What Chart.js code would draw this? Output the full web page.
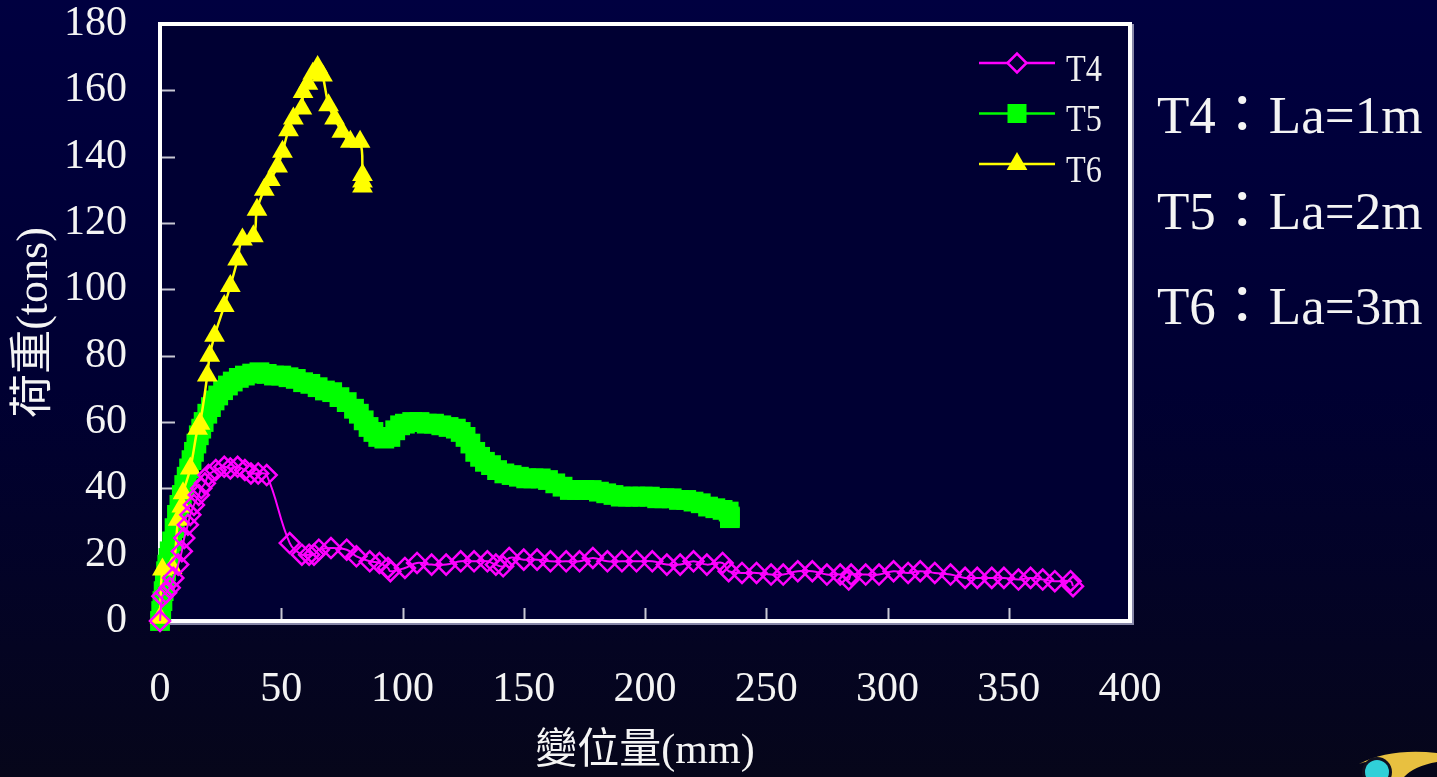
<!DOCTYPE html>
<html>
<head>
<meta charset="utf-8">
<script src="https://cdn.jsdelivr.net/npm/chart.js@4.4.0/dist/chart.umd.min.js"></script>
<style>
  html, body {
    margin: 0;
    padding: 0;
    width: 1437px;
    height: 777px;
    overflow: hidden;
    background: linear-gradient(to bottom, #000040 0%, #000032 50%, #06061a 100%);
  }
  canvas { display: block; }
</style>
</head>
<body>
<canvas id="grafica" width="1437" height="777"></canvas>
<script>
// Nombres de las series y notas de la derecha
const seriesNames = ['T4', 'T5', 'T6'];
const noteLines = ['T4：La=1m', 'T5：La=2m', 'T6：La=3m'];

// Marcas de los ejes
const xTickVals = [0, 50, 100, 150, 200, 250, 300, 350, 400];
const yTickVals = [0, 20, 40, 60, 80, 100, 120, 140, 160, 180];

// T4 (La=1m) desplazamiento (mm) / carga (tons)
const t4X = [0, 1, 2.5, 4, 5.5, 7.5, 9, 10, 11.5, 12.5,
  14, 16, 17, 18.5, 20, 23, 26.5, 29, 32, 35,
  37.5, 40.5, 44, 53.5, 58.5, 61.5, 63.5, 65.5, 70.5, 77,
  81, 86.5, 90.5, 94, 95, 101, 106, 112, 118, 124,
  129.5, 135, 138.5, 141.5, 144, 150, 155.5, 161, 167.5, 173,
  178.5, 184.5, 190.5, 196.5, 203, 209, 214.5, 220, 225.5, 232,
  234.5, 240, 246, 252, 257, 263, 269, 275, 280.5, 284,
  285, 291, 296.5, 302.5, 308.5, 313.5, 319.5, 326, 332, 337,
  343, 348, 354, 359, 364, 369, 375.5, 376.5];
const t4Y = [0, 7.5, 8.5, 10, 13, 17, 21, 25, 29, 32,
  35, 38, 40, 41.5, 44, 45.5, 46.5, 46, 46.5, 45.5,
  44.5, 44.5, 44, 23.5, 20, 20, 20, 21.5, 22, 21.5,
  19.5, 18, 17.5, 16, 15, 16, 17.5, 17, 17, 18,
  18, 18, 17, 16.5, 19, 18.5, 18.5, 18, 18, 18,
  19, 18, 18, 18, 18, 17, 17, 18, 17, 17.5,
  15, 14.5, 14.5, 14, 14, 15, 15, 14, 14, 12.5,
  14, 14, 14, 15, 14.5, 15, 14.5, 14, 13, 13,
  13, 13, 12.5, 13, 12.5, 12, 12, 10.5];

// T5 (La=2m)
const t5X = [0, 0.5, 1, 1.5, 2, 2.5, 3, 3.5, 4, 5,
  6, 7, 8, 9, 10, 11, 12, 13, 14, 15,
  16, 17, 18, 19.5, 21, 22.5, 24, 26, 28, 30,
  32.5, 35, 38, 41, 44, 47, 50, 53, 56, 59,
  62, 65, 68, 71, 74, 77, 80, 82, 84, 86,
  88, 90, 92.5, 95, 97, 99, 101, 104, 107, 110,
  113, 116, 119, 122, 124, 126, 128, 130, 132, 134,
  136.5, 139, 142, 145, 148, 151, 154, 157, 160, 163,
  166, 169, 172, 175, 178, 181, 184, 187, 190, 193,
  196, 199, 202, 205, 208, 211, 214, 217, 220, 223,
  226, 229, 232, 234.5, 235, 235];
const t5Y = [0, 3, 6, 9, 12, 15, 17, 19, 21, 24,
  28, 32, 35, 38, 41, 43.5, 46, 48.5, 51, 53.5,
  56, 58, 60, 62.5, 64.5, 66.5, 68, 69.6, 71, 72.2,
  73.3, 74, 74.6, 75, 74.5, 74, 74, 73.5, 73, 72,
  71.5, 70.5, 69.5, 69, 67.5, 66, 64, 62.5, 60.5, 58.5,
  57, 55.5, 55, 55.5, 57.5, 59, 59.5, 60, 60, 59.5,
  59.5, 59, 58.5, 58, 57, 55.5, 53.5, 51, 49.5, 48,
  47, 45.5, 44.5, 44, 43.5, 43, 43, 43, 42.5, 41.5,
  40.5, 39.5, 39.5, 39.5, 39.5, 39, 38.5, 38, 37.5, 37.5,
  37.5, 37.5, 37.5, 37, 37, 37, 36.5, 36.5, 36, 35.5,
  34.5, 34, 33.5, 33, 31.5, 31];

// T6 (La=3m)
const t6X = [0, 1, 5, 7.5, 9, 9.5, 12.5, 15.5, 16.5, 19.5,
  20.5, 22.5, 26.5, 29, 32, 34, 38.5, 40, 43, 45.5,
  48.5, 50.5, 53, 55, 58.5, 59, 61, 63, 65, 67,
  69.5, 72, 75, 78.5, 82.5, 83.5, 83.5, 83.5];
const t6Y = [1, 15.5, 16, 30.5, 34.5, 38.5, 46, 58, 59.5, 74,
  80, 86, 95, 101, 109, 115, 116, 124, 130, 133,
  137, 141.5, 148, 151.5, 154.5, 159.5, 162, 165, 167, 164.5,
  155.5, 151.5, 147.5, 144.5, 144.5, 134.5, 132.5, 131];

// Colores de cada serie
const colores = ['#ff00ff', '#00ff00', '#ffff00'];

const puntos = (xs, ys) => xs.map((v, i) => ({ x: v, y: ys[i] }));

const serif = '"Liberation Serif", "Noto Sans CJK TC", serif';

// Dibujo un marcador a mano (leyenda)
function marcador(ctx, tipo, x, y, color) {
  ctx.beginPath();
  if (tipo === 'rectRot') {
    const r = 9.5;
    ctx.moveTo(x - r, y); ctx.lineTo(x, y - r); ctx.lineTo(x + r, y); ctx.lineTo(x, y + r);
    ctx.closePath();
    ctx.fillStyle = '#000033'; ctx.fill();
    ctx.lineWidth = 2.5; ctx.strokeStyle = color; ctx.stroke();
  } else if (tipo === 'rect') {
    ctx.rect(x - 9.5, y - 9.5, 19, 19);
    ctx.fillStyle = color; ctx.fill();
  } else {
    const r = 12;
    ctx.moveTo(x, y - r);
    ctx.lineTo(x + r * 0.866, y + r / 2);
    ctx.lineTo(x - r * 0.866, y + r / 2);
    ctx.closePath();
    ctx.fillStyle = color; ctx.fill();
  }
}

// Plugin: fondo del área, marco, marcas interiores, leyenda, notas y logo
const decoracion = {
  id: 'decoracion',
  beforeDraw(chart) {
    const { ctx, chartArea: a } = chart;
    ctx.save();
    ctx.fillStyle = '#000033';
    ctx.fillRect(a.left, a.top, a.width, a.height);
    ctx.restore();
  },
  beforeDatasetsDraw(chart) {
    const { ctx, chartArea: a, scales: { x, y } } = chart;
    ctx.save();
    ctx.strokeStyle = '#c8c8d4';
    ctx.lineWidth = 2;
    xTickVals.slice(1, -1).forEach(v => {
      const px = Math.round(x.getPixelForValue(v)) + 0.5;
      ctx.beginPath(); ctx.moveTo(px, a.bottom); ctx.lineTo(px, a.bottom - 13); ctx.stroke();
    });
    yTickVals.slice(1, -1).forEach(v => {
      const py = Math.round(y.getPixelForValue(v)) + 0.5;
      ctx.beginPath(); ctx.moveTo(a.left, py); ctx.lineTo(a.left + 15, py); ctx.stroke();
    });
    // sombra gris y marco blanco
    ctx.strokeStyle = '#8888a8';
    ctx.lineWidth = 2;
    ctx.beginPath();
    ctx.moveTo(a.right + 3, a.top); ctx.lineTo(a.right + 3, a.bottom + 3); ctx.lineTo(a.left, a.bottom + 3);
    ctx.stroke();
    ctx.strokeStyle = '#ffffff';
    ctx.lineWidth = 4;
    ctx.strokeRect(a.left, a.top, a.width, a.height);
    ctx.restore();
  },
  afterDraw(chart) {
    const { ctx } = chart;
    ctx.save();
    // Leyenda
    const estilos = ['rectRot', 'rect', 'triangle'];
    seriesNames.forEach((nombre, i) => {
      const ly = 63 + i * 50.5;
      ctx.strokeStyle = colores[i];
      ctx.lineWidth = 2.5;
      ctx.beginPath(); ctx.moveTo(979, ly); ctx.lineTo(1055, ly); ctx.stroke();
      marcador(ctx, estilos[i], 1017, ly, colores[i]);
      ctx.save();
      ctx.translate(1066, ly + 17.5);
      ctx.scale(0.85, 1);
      ctx.fillStyle = '#f0f0f0';
      ctx.font = '38px ' + serif;
      ctx.textBaseline = 'alphabetic';
      ctx.fillText(nombre, 0, 0);
      ctx.restore();
    });
    // Notas de la derecha
    ctx.fillStyle = '#f4f4f4';
    ctx.font = '53px ' + serif;
    ctx.textBaseline = 'alphabetic';
    noteLines.forEach((t, i) => ctx.fillText(t, 1157, 133 + i * 95.5));
    // Logo de la esquina
    ctx.fillStyle = '#e8c040';
    ctx.beginPath();
    ctx.moveTo(1359, 764);
    ctx.quadraticCurveTo(1390, 748, 1437, 753);
    ctx.lineTo(1437, 762);
    ctx.quadraticCurveTo(1414, 766, 1404, 777);
    ctx.lineTo(1388, 777);
    ctx.quadraticCurveTo(1378, 756, 1359, 764);
    ctx.fill();
    ctx.fillStyle = '#101020';
    ctx.beginPath(); ctx.arc(1377, 772, 15, 0, Math.PI * 2); ctx.fill();
    ctx.fillStyle = '#30d0d8';
    ctx.beginPath(); ctx.arc(1377, 772, 12, 0, Math.PI * 2); ctx.fill();
    ctx.restore();
  }
};

const ctx = document.getElementById('grafica').getContext('2d');

const grafica = new Chart(ctx, {
  type: 'line',
  data: {
    datasets: [
      {
        label: seriesNames[0],
        data: puntos(t4X, t4Y),
        borderColor: colores[0],
        borderWidth: 2,
        tension: 0.4,
        pointStyle: 'rectRot',
        pointRadius: 10,
        pointBorderWidth: 2.5,
        pointBorderColor: colores[0],
        pointBackgroundColor: 'rgba(0,0,0,0)',
        clip: false,
        order: 0
      },
      {
        label: seriesNames[1],
        data: puntos(t5X, t5Y),
        borderColor: colores[1],
        borderWidth: 2,
        tension: 0.4,
        pointStyle: 'rect',
        pointRadius: 14,
        pointBorderWidth: 0,
        pointBackgroundColor: colores[1],
        clip: false,
        order: 2
      },
      {
        label: seriesNames[2],
        data: puntos(t6X, t6Y),
        borderColor: colores[2],
        borderWidth: 2.5,
        tension: 0.4,
        pointStyle: 'triangle',
        pointRadius: 12,
        pointBorderWidth: 0,
        pointBackgroundColor: colores[2],
        clip: false,
        order: 1
      }
    ]
  },
  options: {
    responsive: false,
    animation: false,
    layout: { padding: { left: 0, right: 307, top: 24, bottom: 0 } },
    plugins: {
      legend: { display: false },
      tooltip: { enabled: false }
    },
    scales: {
      x: {
        type: 'linear',
        min: 0,
        max: 400,
        grid: { display: false, drawTicks: false },
        border: { display: false },
        afterBuildTicks: s => { s.ticks = xTickVals.map(v => ({ value: v })); },
        afterFit: s => { s.height = 156; s.paddingLeft = 0; s.paddingRight = 0; },
        ticks: {
          color: '#f4f4f4',
          padding: 48,
          maxRotation: 0,
          font: { family: serif, size: 42, lineHeight: 1 }
        },
        title: {
          display: true,
          text: '變位量(mm)',
          color: '#f4f4f4',
          padding: 0,
          font: { family: serif, size: 42, lineHeight: 1.2 }
        }
      },
      y: {
        type: 'linear',
        min: 0,
        max: 180,
        grid: { display: false, drawTicks: false },
        border: { display: false },
        afterBuildTicks: s => { s.ticks = yTickVals.map(v => ({ value: v })); },
        afterFit: s => { s.width = 160; s.paddingTop = 0; s.paddingBottom = 0; },
        ticks: {
          color: '#f4f4f4',
          padding: 33,
          font: { family: serif, size: 42, lineHeight: 1 }
        },
        title: {
          display: true,
          text: '荷重(tons)',
          color: '#f4f4f4',
          padding: { top: 9, bottom: 0 },
          font: { family: serif, size: 44, lineHeight: 1.2 }
        }
      }
    }
  },
  plugins: [decoracion]
});
</script>
</body>
</html>
